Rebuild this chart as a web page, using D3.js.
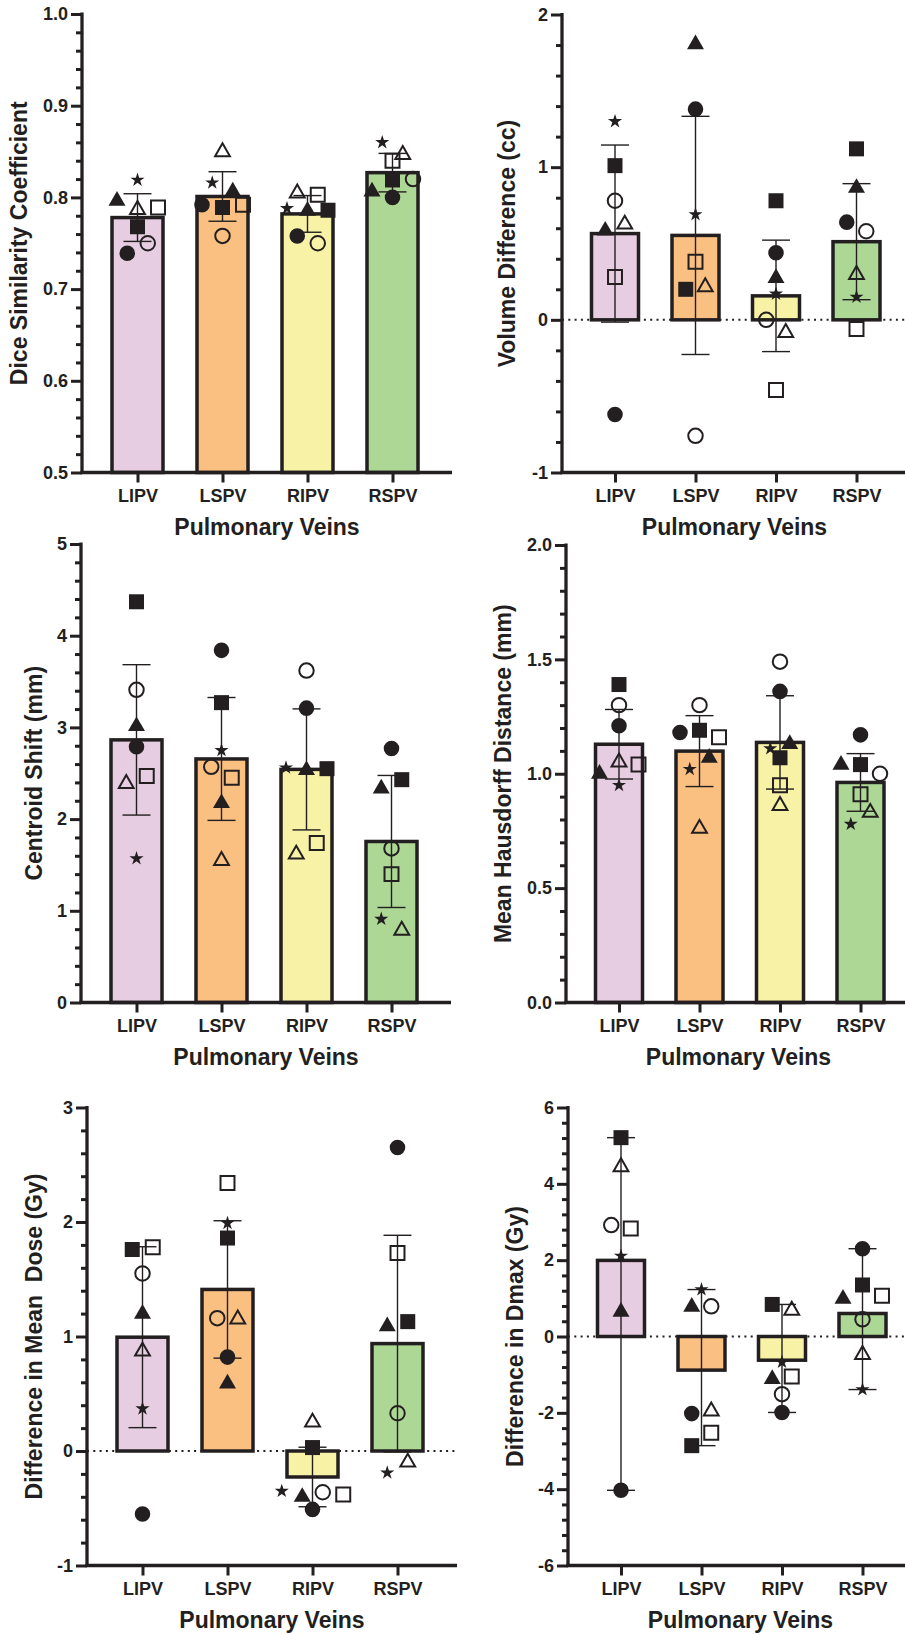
<!DOCTYPE html>
<html>
<head>
<meta charset="utf-8">
<script src="https://cdnjs.cloudflare.com/ajax/libs/d3/7.8.5/d3.min.js"></script>
<style>
  body { margin: 0; background: #fff; }
  svg { display: block; font-family: "Liberation Sans", Arial, sans-serif; }
</style>
</head>
<body>
<svg id="chart"></svg>
<script>
// categories
const veins = ["LIPV", "LSPV", "RIPV", "RSPV"];

// every values row below follows the same patient order:
// filled circle, filled square, filled triangle, open circle, open square, open triangle, star
const diceValues = [
  [0.739, 0.768, 0.799, 0.750, 0.789, 0.789, 0.819],
  [0.792, 0.789, 0.809, 0.758, 0.792, 0.852, 0.816],
  [0.758, 0.786, 0.788, 0.750, 0.803, 0.807, 0.788],
  [0.800, 0.819, 0.809, 0.820, 0.840, 0.849, 0.860]
];
const diceMean = [0.778, 0.801, 0.782, 0.827];
const diceSD = [0.026, 0.027, 0.020, 0.021];

const volumeValues = [
  [-0.62, 1.01, 0.60, 0.78, 0.28, 0.64, 1.30],
  [1.38, 0.20, 1.82, -0.76, 0.38, 0.23, 0.69],
  [0.44, 0.78, 0.29, 0.00, -0.46, -0.07, 0.17],
  [0.64, 1.12, 0.88, 0.58, -0.06, 0.31, 0.15]
];
const volumeMean = [0.565, 0.553, 0.157, 0.512];
const volumeSD = [0.58, 0.78, 0.365, 0.38];

const centroidValues = [
  [2.79, 4.37, 3.04, 3.41, 2.47, 2.41, 1.57],
  [3.84, 3.27, 2.20, 2.57, 2.45, 1.57, 2.75],
  [3.21, 2.55, 2.56, 3.62, 1.74, 1.64, 2.56],
  [2.77, 2.43, 2.36, 1.68, 1.40, 0.81, 0.91]
];
const centroidMean = [2.864, 2.656, 2.542, 1.756];
const centroidSD = [0.82, 0.67, 0.66, 0.72];

const hausdorffValues = [
  [1.21, 1.39, 1.01, 1.30, 1.04, 1.06, 0.95],
  [1.18, 1.19, 1.08, 1.30, 1.16, 0.77, 1.02],
  [1.36, 1.07, 1.14, 1.49, 0.95, 0.87, 1.11],
  [1.17, 1.04, 1.05, 1.00, 0.91, 0.84, 0.78]
];
const hausdorffMean = [1.129, 1.099, 1.137, 0.962];
const hausdorffSD = [0.152, 0.155, 0.204, 0.126];

const meanDoseValues = [
  [-0.55, 1.76, 1.22, 1.55, 1.78, 0.89, 0.37],
  [0.82, 1.86, 0.61, 1.16, 2.34, 1.17, 1.99],
  [-0.51, 0.03, -0.38, -0.36, -0.38, 0.27, -0.35],
  [2.65, 1.13, 1.11, 0.33, 1.73, -0.08, -0.19]
];
const meanDoseMean = [0.994, 1.411, -0.227, 0.938];
const meanDoseSD = [0.79, 0.60, 0.26, 0.946];

// Dmax error bars span min..max of the points
const dmaxValues = [
  [-4.03, 5.21, 0.71, 2.92, 2.83, 4.50, 2.11],
  [-2.02, -2.86, 0.84, 0.79, -2.52, -1.90, 1.23],
  [-1.99, 0.84, -1.05, -1.51, -1.05, 0.74, -0.67],
  [2.30, 1.35, 1.05, 0.45, 1.07, -0.42, -1.39]
];
const dmaxMean = [1.994, -0.881, -0.621, 0.603];

// y tick labels
const diceTicks = [0.5, 0.6, 0.7, 0.8, 0.9, 1.0];
const volumeTicks = [-1, 0, 1, 2];
const centroidTicks = [0, 1, 2, 3, 4, 5];
const hausdorffTicks = [0.0, 0.5, 1.0, 1.5, 2.0];
const meanDoseTicks = [-1, 0, 1, 2, 3];
const dmaxTicks = [-6, -4, -2, 0, 2, 4, 6];

const barColors = ["#e6cde2", "#f9c081", "#f8f2a6", "#add795"];
const ink = "#231f20";

// left column and right column plot geometry
const leftCol = { first: 55.5, gap: 85, barW: 51, len: 370, step: 20.5 };
const rightCol = { first: 53, gap: 80.5, barW: 47, len: 345, step: 19.5 };

const panels = [
  { values: diceValues, mean: diceMean, sd: diceSD, ticks: diceTicks, minor: 0.02, fmt: ".1f", base: 0.5,
    title: "Dice Similarity Coefficient", col: leftCol, x0: 82, yTop: 14, yBot: 472.5, titleGap: 55 },
  { values: volumeValues, mean: volumeMean, sd: volumeSD, ticks: volumeTicks, minor: 0.2, fmt: "d", base: 0, zero: true,
    title: "Volume Difference (cc)", col: rightCol, x0: 562, yTop: 14.5, yBot: 472.5, titleGap: 47 },
  { values: centroidValues, mean: centroidMean, sd: centroidSD, ticks: centroidTicks, minor: 0.2, fmt: "d", base: 0,
    title: "Centroid Shift (mm)", col: leftCol, x0: 81, yTop: 544, yBot: 1002.5, titleGap: 39 },
  { values: hausdorffValues, mean: hausdorffMean, sd: hausdorffSD, ticks: hausdorffTicks, minor: 0.1, fmt: ".1f", base: 0,
    title: "Mean Hausdorff Distance (mm)", col: rightCol, x0: 566, yTop: 545, yBot: 1002.5, titleGap: 55 },
  { values: meanDoseValues, mean: meanDoseMean, sd: meanDoseSD, ticks: meanDoseTicks, minor: 0.2, fmt: "d", base: 0, zero: true,
    title: "Difference in Mean  Dose (Gy)", col: leftCol, x0: 87, yTop: 1107.5, yBot: 1565.5, titleGap: 45 },
  { values: dmaxValues, mean: dmaxMean, range: true, ticks: dmaxTicks, minor: 0.4, fmt: "d", base: 0, zero: true,
    title: "Difference in Dmax (Gy)", col: rightCol, x0: 568, yTop: 1107.5, yBot: 1565.5, titleGap: 45 }
];

// marker per patient, same order as the value rows
const markers = [
  { type: d3.symbolCircle, size: 190, filled: true },
  { type: d3.symbolSquare, size: 225, filled: true },
  { type: d3.symbolTriangle, size: 125, filled: true },
  { type: d3.symbolCircle, size: 165, filled: false },
  { type: d3.symbolSquare, size: 195, filled: false },
  { type: d3.symbolTriangle, size: 95, filled: false },
  { type: d3.symbolStar, size: 62, filled: true }
];
// left-to-right order of markers that share a row
const rowRank = [2, 3, 1, 4, 6, 5, 0];

const svg = d3.select("#chart").attr("width", 905).attr("height", 1635);

// spread points that would overlap into centred rows (column scatter)
function spread(vals, y, step) {
  const pts = vals.map((v, k) => ({ v: v, k: k, dx: 0 }));
  const rows = [];
  pts.slice().sort((a, b) => b.v - a.v).forEach(p => {
    const row = rows[rows.length - 1];
    if (row && Math.abs(y(p.v) - y(row[0].v)) < 14) row.push(p);
    else rows.push([p]);
  });
  rows.forEach(row => {
    row.sort((a, b) => rowRank[a.k] - rowRank[b.k]);
    row.forEach((p, i) => { p.dx = (i - (row.length - 1) / 2) * step; });
  });
  return pts;
}

function drawPanel(p) {
  const c = p.col;
  const g = svg.append("g");
  const dom = [p.ticks[0], p.ticks[p.ticks.length - 1]];
  const y = d3.scaleLinear().domain(dom).range([p.yBot, p.yTop]);
  const x = d3.scalePoint().domain(veins).range([p.x0 + c.first, p.x0 + c.first + 3 * c.gap]);
  const xEnd = p.x0 + c.len;

  // dotted zero line
  if (p.zero) {
    g.append("line")
      .attr("x1", p.x0).attr("x2", xEnd)
      .attr("y1", y(0)).attr("y2", y(0))
      .attr("stroke", ink).attr("stroke-width", 2)
      .attr("stroke-dasharray", "2,4.3");
  }

  // bars
  g.selectAll("rect.bar")
    .data(veins)
    .join("rect")
    .attr("class", "bar")
    .attr("x", d => x(d) - c.barW / 2)
    .attr("width", c.barW)
    .attr("y", (d, i) => Math.min(y(p.mean[i]), y(p.base)))
    .attr("height", (d, i) => Math.abs(y(p.mean[i]) - y(p.base)))
    .attr("fill", (d, i) => barColors[i])
    .attr("stroke", ink)
    .attr("stroke-width", 3.5);

  // error bars (SD, or min..max for Dmax)
  veins.forEach((v, i) => {
    const ext = p.range ? d3.extent(p.values[i]) : [p.mean[i] - p.sd[i], p.mean[i] + p.sd[i]];
    const cx = x(v);
    const eg = g.append("g").attr("stroke", ink).attr("stroke-width", 1.4);
    eg.append("line").attr("x1", cx).attr("x2", cx).attr("y1", y(ext[0])).attr("y2", y(ext[1]));
    ext.forEach(e => {
      eg.append("line").attr("x1", cx - 14).attr("x2", cx + 14).attr("y1", y(e)).attr("y2", y(e));
    });
  });

  // individual patients
  veins.forEach((v, i) => {
    const pts = spread(p.values[i], y, c.step);
    g.selectAll(null)
      .data(pts)
      .join("path")
      .attr("d", d => d3.symbol(markers[d.k].type, markers[d.k].size)())
      .attr("transform", d => {
        let dy = 0;
        if (markers[d.k].type === d3.symbolTriangle) {
          dy = Math.sqrt(markers[d.k].size / (Math.sqrt(3) * 3)) / 2;
        }
        return "translate(" + (x(v) + d.dx) + "," + (y(d.v) + dy) + ")";
      })
      .attr("fill", d => markers[d.k].filled ? ink : "none")
      .attr("stroke", d => markers[d.k].filled ? "none" : ink)
      .attr("stroke-width", 2)
      .attr("stroke-linejoin", "miter");
  });

  // y axis: minor ticks, then major ticks with labels
  const n = Math.round((dom[1] - dom[0]) / p.minor);
  const minorTicks = d3.range(n + 1).map(k => +(dom[0] + k * p.minor).toFixed(4))
    .filter(t => !p.ticks.some(m => Math.abs(m - t) < 1e-6));
  const fmt = d3.format(p.fmt);

  const minorAxis = g.append("g")
    .attr("transform", "translate(" + p.x0 + ",0)")
    .call(d3.axisLeft(y).tickValues(minorTicks).tickSize(6).tickSizeOuter(0).tickFormat(""));
  minorAxis.select(".domain").remove();
  minorAxis.selectAll("line").attr("stroke", ink).attr("stroke-width", 3);

  const yAxis = g.append("g")
    .attr("transform", "translate(" + p.x0 + ",0)")
    .call(d3.axisLeft(y).tickValues(p.ticks).tickSize(11).tickPadding(3).tickSizeOuter(0)
      .tickFormat(d => fmt(d).replace("\u2212", "-")));
  yAxis.select(".domain").remove();
  yAxis.selectAll("line").attr("stroke", ink).attr("stroke-width", 3);
  yAxis.selectAll("text")
    .attr("fill", ink)
    .style("font-size", "18px")
    .style("font-weight", "bold");

  // x axis
  const xAxis = g.append("g")
    .attr("transform", "translate(0," + p.yBot + ")")
    .call(d3.axisBottom(x).tickSize(10).tickPadding(7).tickSizeOuter(0));
  xAxis.select(".domain").remove();
  xAxis.selectAll("line").attr("stroke", ink).attr("stroke-width", 3);
  xAxis.selectAll("text")
    .attr("fill", ink)
    .style("font-size", "18px")
    .style("font-weight", "bold");

  // axis lines
  g.append("line")
    .attr("x1", p.x0).attr("x2", p.x0)
    .attr("y1", p.yTop - 1.5).attr("y2", p.yBot + 1.6)
    .attr("stroke", ink).attr("stroke-width", 3.3);
  g.append("line")
    .attr("x1", p.x0 - 1.6).attr("x2", xEnd)
    .attr("y1", p.yBot).attr("y2", p.yBot)
    .attr("stroke", ink).attr("stroke-width", 3.3);

  // titles
  g.append("text")
    .attr("x", (p.x0 + xEnd) / 2)
    .attr("y", p.yBot + 62)
    .attr("text-anchor", "middle")
    .attr("fill", ink)
    .style("font-size", "23px")
    .style("font-weight", "bold")
    .text("Pulmonary Veins");

  g.append("text")
    .attr("transform", "translate(" + (p.x0 - p.titleGap) + "," + ((p.yTop + p.yBot) / 2) + ") rotate(-90)")
    .attr("text-anchor", "middle")
    .attr("fill", ink)
    .style("font-size", "23px")
    .style("font-weight", "bold")
    .style("white-space", "pre")
    .text(p.title);
}

panels.forEach(drawPanel);
</script>
</body>
</html>
